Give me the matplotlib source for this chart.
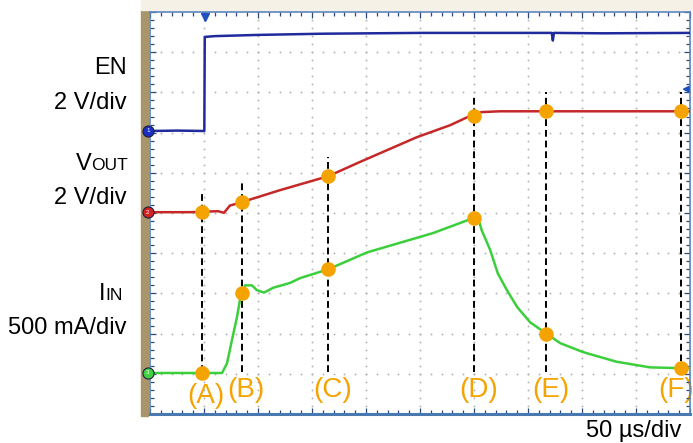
import matplotlib.pyplot as plt
from matplotlib.patches import Rectangle

plt.rcParams['font.family'] = ['Liberation Sans', 'DejaVu Sans']

# -----------------------------
# SCOPE SETTINGS
# -----------------------------
t_div = 50                        # us/div
n_div = 10
en_scale, en_zero = 2.0, 7.04     # V/div, screen position (div) of 0 V
vout_scale, vout_zero = 2.0, 5.02
iin_scale, iin_zero = 0.5, 1.02   # A/div

# -----------------------------
# TRACES (time in us)
# -----------------------------
en_t = [0, 25, 50.3, 50.7, 60, 100, 160, 250, 350, 372, 373, 374, 420, 500]
en_v = [0.0, 0.02, 0.0, 4.68, 4.72, 4.78, 4.84, 4.88, 4.88, 4.88, 4.50, 4.88, 4.86, 4.88]

vout_t = [0, 37, 63, 68.5, 74, 85, 120, 165, 194, 247, 278, 294, 300, 307, 324, 400, 500]
vout_v = [0.0, 0.0, 0.05, -0.03, 0.33, 0.50, 1.09, 1.79, 2.49, 3.73, 4.33, 4.73,
          4.83, 4.98, 5.02, 5.02, 5.02]

iin_t = [0, 66.7, 71.3, 75.9, 80.6, 83.3, 85, 88, 94.4, 99, 105.6, 114, 129.6, 139,
         165, 201, 262, 300, 303, 307, 315, 322, 330.5, 340, 352, 367, 380, 401,
         432, 463, 492, 500]
iin_a = [0.0, 0.0, 0.12, 0.41, 0.70, 0.91, 1.00, 1.09, 1.09, 1.03, 1.00, 1.06, 1.12,
         1.18, 1.29, 1.50, 1.74, 1.93, 1.97, 1.78, 1.53, 1.24, 1.03, 0.82, 0.63, 0.49,
         0.37, 0.26, 0.14, 0.07, 0.06, 0.06]

# -----------------------------
# MARKED POINTS
# -----------------------------
mark_names = ['(A)', '(B)', '(C)', '(D)', '(E)', '(F)']
mark_t = [48, 85, 165, 300, 367, 492]
mark_vout = [0.0, 0.50, 1.79, 4.80, 5.02, 5.02]
mark_iin = [0.0, 1.00, 1.29, 1.93, 0.49, 0.06]


def to_div(vals, scale, zero):
    return [zero + v / scale for v in vals]


orange = '#f5a300'
blue = '#1f2a9c'
red = '#c62828'
green = '#3ccf3c'

# -----------------------------
# FIGURE
# -----------------------------
W, H = 693, 443
fig = plt.figure(figsize=(W / 100, H / 100), dpi=100)
fig.patch.set_facecolor('white')

# bezel strips
fig.add_artist(Rectangle((141 / W, 1 - 416 / H), 7 / W, 406 / H,
                         transform=fig.transFigure, color='#a8956a', zorder=0))
fig.add_artist(Rectangle((141 / W, 1 - 10 / H), 552 / W, 10 / H,
                         transform=fig.transFigure, color='#f5f1e6', zorder=0))

ax = fig.add_axes([150 / W, 29 / H, 540 / W, 402 / H])
ax.set_xlim(0, t_div * n_div)
ax.set_ylim(0, n_div)

# graticule dots
gx, gy = [], []
for i in range(1, n_div):
    for k in range(n_div * 5 + 1):
        gx.append(i * t_div)
        gy.append(k * 0.2)
        gx.append(k * t_div / 5)
        gy.append(i)
ax.scatter(gx, gy, s=1.8, color='#b2b2b2', lw=0, zorder=1)

# ticks on the frame
ax.set_xticks([i * t_div for i in range(n_div + 1)])
ax.set_xticks([k * t_div / 5 for k in range(n_div * 5 + 1)], minor=True)
ax.set_yticks(range(n_div + 1))
ax.set_yticks([k * 0.2 for k in range(n_div * 5 + 1)], minor=True)
ax.tick_params(which='both', direction='in', top=True, right=True,
               labelbottom=False, labelleft=False, color='#2b4a7a', width=0.9)
ax.tick_params(which='major', length=4.5)
ax.tick_params(which='minor', length=3)
for side in ['top', 'right', 'left']:
    ax.spines[side].set_color('#5a86bd')
    ax.spines[side].set_linewidth(1.2)
ax.spines['bottom'].set_color('#4a78b0')
ax.spines['bottom'].set_linewidth(2.2)

# dashed guides from VOUT down to the labels
vout_mark_div = to_div(mark_vout, vout_scale, vout_zero)
for t, yv in zip(mark_t, vout_mark_div):
    ax.plot([t, t], [1.04, yv + 0.48], color='black', lw=1.4,
            linestyle=(0, (3.5, 2)), zorder=2)

# traces
ax.plot(en_t, to_div(en_v, en_scale, en_zero), color=blue, lw=1.8, zorder=3)
ax.plot(vout_t, to_div(vout_v, vout_scale, vout_zero), color=red, lw=1.8, zorder=3)
ax.plot(iin_t, to_div(iin_a, iin_scale, iin_zero), color=green, lw=1.8, zorder=3)

# marked points
ax.plot(mark_t, vout_mark_div, 'o', color=orange, ms=10.5, mec='none', zorder=5)
ax.plot(mark_t, to_div(mark_iin, iin_scale, iin_zero), 'o', color=orange, ms=10.5,
        mec='none', zorder=5)
for name, t in zip(mark_names, mark_t):
    if name == '(F)':
        x, y = t - 5, 0.6
    elif name == '(A)':
        x, y = t + 4, 0.45
    else:
        x, y = t + 4, 0.6
    ax.text(x, y, name, color=orange, fontsize=20, ha='center', va='center',
            zorder=1.5, clip_on=False)

# channel ground badges
for num, zero, c in [('1', en_zero, '#1a2fc0'), ('2', vout_zero, '#d42020'),
                     ('3', iin_zero, '#40d040')]:
    ax.plot([-2], [zero], 'o', ms=8, color=c, mec='#202040', mew=0.8,
            clip_on=False, zorder=7)
    ax.text(-2, zero, num, color='white', fontsize=4.5, ha='center', va='center',
            clip_on=False, zorder=8)

# trigger position and level markers
ax.plot([51], [9.88], 'v', ms=6, color='#2050c0', clip_on=False, zorder=7)
ax.annotate('', xy=(490, 8.08), xytext=(500, 8.08),
            arrowprops=dict(arrowstyle='-|>', color='#2050c0', lw=1.5,
                            mutation_scale=8), zorder=7)

# -----------------------------
# CHANNEL LABELS
# -----------------------------
def ftext(x, y, s, **kw):
    fig.text(x / W, 1 - y / H, s, **kw)


ftext(127, 68, 'EN', fontsize=17, ha='right', va='center')
ftext(127, 103, '2 V/div', fontsize=17, ha='right', va='center')
ftext(76, 170, 'V', fontsize=17, ha='left', va='baseline')
ftext(91, 170, 'OUT', fontsize=12.5, ha='left', va='baseline')
ftext(127, 198, '2 V/div', fontsize=17, ha='right', va='center')
ftext(99, 300, 'I', fontsize=17, ha='left', va='baseline')
ftext(105, 300, 'IN', fontsize=12.5, ha='left', va='baseline')
ftext(127, 328, '500 mA/div', fontsize=17, ha='right', va='center')
ftext(681, 431, '50 µs/div', fontsize=17, ha='right', va='center')

fig.savefig('out.png', dpi=100)
